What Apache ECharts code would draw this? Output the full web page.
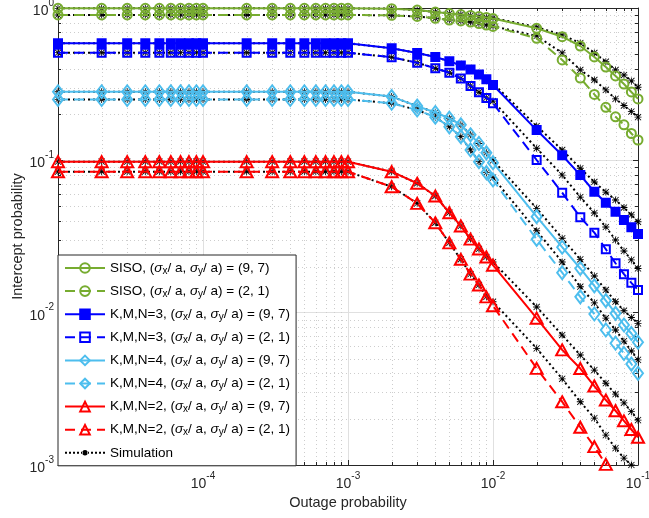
<!DOCTYPE html>
<html><head><meta charset="utf-8">
<script src="https://cdn.jsdelivr.net/npm/echarts@6/dist/echarts.min.js"></script>
<style>html,body{margin:0;padding:0;background:#fff}#c{width:649px;height:518px}</style>
</head><body><div id="c"></div><script>
// Outage probability (x) sample points
const X = [1e-5,2e-5,3e-5,4e-5,5e-5,6e-5,7e-5,8e-5,9e-5,
           1e-4,2e-4,3e-4,4e-4,5e-4,6e-4,7e-4,8e-4,9e-4,
           1e-3,2e-3,3e-3,4e-3,5e-3,6e-3,7e-3,8e-3,9e-3,
           1e-2,2e-2,3e-2,4e-2,5e-2,6e-2,7e-2,8e-2,9e-2,1e-1];

// Analytical curves (intercept probability)
const sisoA = [0.995,0.995,0.995,0.995,0.995,0.995,0.995,0.995,0.995,0.995,0.995,0.995,0.995,0.995,0.995,0.995,0.995,0.995,0.995,
  0.99,0.970,0.941,0.920,0.906,0.893,0.879,0.867,0.853,0.736,0.648,0.563,0.477,0.410,0.358,0.317,0.281,0.253];
const sisoB = [0.90,0.90,0.90,0.90,0.90,0.90,0.90,0.90,0.90,0.90,0.90,0.90,0.90,0.90,0.90,0.90,0.90,0.90,0.90,
  0.895,0.880,0.856,0.834,0.822,0.809,0.791,0.773,0.757,0.633,0.456,0.347,0.271,0.223,0.193,0.171,0.150,0.136];
const kmn3A = [0.586,0.586,0.586,0.586,0.586,0.586,0.586,0.586,0.586,0.586,0.586,0.586,0.586,0.586,0.586,0.586,0.586,0.586,0.586,
  0.544,0.507,0.477,0.447,0.420,0.394,0.366,0.340,0.312,0.158,0.108,0.080,0.0622,0.0527,0.0460,0.0406,0.0363,0.0328];
const kmn3B = [0.509,0.509,0.509,0.509,0.509,0.509,0.509,0.509,0.509,0.509,0.509,0.509,0.509,0.509,0.509,0.509,0.509,0.509,0.509,
  0.475,0.437,0.402,0.376,0.345,0.308,0.280,0.257,0.237,0.1005,0.0613,0.0423,0.0335,0.0261,0.0211,0.0179,0.0157,0.0141];
const kmn4A = [0.282,0.282,0.282,0.282,0.282,0.282,0.282,0.282,0.282,0.282,0.282,0.282,0.282,0.282,0.282,0.282,0.282,0.282,0.282,
  0.262,0.227,0.206,0.189,0.171,0.147,0.129,0.112,0.0965,0.0427,0.0269,0.0195,0.0150,0.0120,0.0099,0.0083,0.0073,0.0064];
const kmn4B = [0.251,0.251,0.251,0.251,0.251,0.251,0.251,0.251,0.251,0.251,0.251,0.251,0.251,0.251,0.251,0.251,0.251,0.251,0.251,
  0.237,0.214,0.192,0.166,0.143,0.117,0.098,0.083,0.0743,0.0303,0.0183,0.0127,0.0098,0.0077,0.0063,0.0054,0.0046,0.0040];
const kmn2A = [0.098,0.098,0.098,0.098,0.098,0.098,0.098,0.098,0.098,0.098,0.098,0.098,0.098,0.098,0.098,0.098,0.098,0.098,0.098,
  0.0842,0.0707,0.0583,0.0453,0.0371,0.0304,0.0262,0.0232,0.0205,0.0092,0.0057,0.0043,0.0033,0.00267,0.00227,0.00195,0.00171,0.00152];
const kmn2B = [0.0842,0.0842,0.0842,0.0842,0.0842,0.0842,0.0842,0.0842,0.0842,0.0842,0.0842,0.0842,0.0842,0.0842,0.0842,0.0842,0.0842,0.0842,0.0842,
  0.0671,0.0522,0.0389,0.0287,0.0224,0.0179,0.0152,0.0127,0.0111,0.00431,0.0026,0.00177,0.00132,0.00101,0.00081,0.00067,0.00057,0.00049];

// Simulation curves
const simSisoA = [0.995,0.995,0.995,0.995,0.995,0.995,0.995,0.995,0.995,0.995,0.995,0.995,0.995,0.995,0.995,0.995,0.995,0.995,0.995,
  0.99,0.970,0.941,0.920,0.906,0.893,0.879,0.867,0.860,0.750,0.665,0.589,0.507,0.444,0.392,0.363,0.332,0.302];
const simSisoB = [0.90,0.90,0.90,0.90,0.90,0.90,0.90,0.90,0.90,0.90,0.90,0.90,0.90,0.90,0.90,0.90,0.90,0.90,0.90,
  0.895,0.880,0.856,0.834,0.822,0.809,0.791,0.773,0.760,0.655,0.507,0.392,0.337,0.290,0.253,0.229,0.209,0.192];
const simKmn3A = [0.586,0.586,0.586,0.586,0.586,0.586,0.586,0.586,0.586,0.586,0.586,0.586,0.586,0.586,0.586,0.586,0.586,0.586,0.586,
  0.544,0.507,0.477,0.447,0.420,0.394,0.366,0.340,0.320,0.168,0.117,0.0887,0.0721,0.0619,0.0549,0.0490,0.0438,0.0395];
const simKmn3B = [0.509,0.509,0.509,0.509,0.509,0.509,0.509,0.509,0.509,0.509,0.509,0.509,0.509,0.509,0.509,0.509,0.509,0.509,0.509,
  0.475,0.437,0.402,0.376,0.345,0.308,0.280,0.257,0.245,0.120,0.080,0.0574,0.0451,0.0365,0.0300,0.0254,0.0222,0.0195];
const simKmn4A = [0.282,0.282,0.282,0.282,0.282,0.282,0.282,0.282,0.282,0.282,0.282,0.282,0.282,0.282,0.282,0.282,0.282,0.282,0.282,
  0.262,0.227,0.206,0.189,0.171,0.147,0.129,0.112,0.100,0.0484,0.0308,0.0224,0.0174,0.0141,0.0118,0.0103,0.0093,0.0085];
const simKmn4B = [0.251,0.251,0.251,0.251,0.251,0.251,0.251,0.251,0.251,0.251,0.251,0.251,0.251,0.251,0.251,0.251,0.251,0.251,0.251,
  0.237,0.214,0.192,0.166,0.143,0.117,0.098,0.083,0.077,0.0345,0.0215,0.0148,0.0116,0.0092,0.0077,0.0065,0.0056,0.0049];
const simKmn2A = [0.098,0.098,0.098,0.098,0.098,0.098,0.098,0.098,0.098,0.098,0.098,0.098,0.098,0.098,0.098,0.098,0.098,0.098,0.098,
  0.0842,0.0707,0.0583,0.0453,0.0371,0.0304,0.0262,0.0232,0.0215,0.0109,0.00713,0.00527,0.0042,0.00344,0.00292,0.00256,0.00224,0.00197];
const simKmn2B = [0.0842,0.0842,0.0842,0.0842,0.0842,0.0842,0.0842,0.0842,0.0842,0.0842,0.0842,0.0842,0.0842,0.0842,0.0842,0.0842,0.0842,0.0842,0.0842,
  0.0671,0.0522,0.0389,0.0287,0.0224,0.0179,0.0152,0.0127,0.0118,0.00583,0.00368,0.0026,0.00203,0.00157,0.00129,0.00111,0.00100,0.00089];

// Minor tick positions
const xMinor = [2e-5,3e-5,4e-5,5e-5,6e-5,7e-5,8e-5,9e-5,2e-4,3e-4,4e-4,5e-4,6e-4,7e-4,8e-4,9e-4,
                2e-3,3e-3,4e-3,5e-3,6e-3,7e-3,8e-3,9e-3,2e-2,3e-2,4e-2,5e-2,6e-2,7e-2,8e-2,9e-2];
const yMinor = [0.002,0.003,0.004,0.005,0.006,0.007,0.008,0.009,0.02,0.03,0.04,0.05,0.06,0.07,0.08,0.09,
                0.2,0.3,0.4,0.5,0.6,0.7,0.8,0.9];

const names = [
  'SISO, (σx/ a, σy/ a) = (9, 7)',
  'SISO, (σx/ a, σy/ a) = (2, 1)',
  'K,M,N=3, (σx/ a, σy/ a) = (9, 7)',
  'K,M,N=3, (σx/ a, σy/ a) = (2, 1)',
  'K,M,N=4, (σx/ a, σy/ a) = (9, 7)',
  'K,M,N=4, (σx/ a, σy/ a) = (2, 1)',
  'K,M,N=2, (σx/ a, σy/ a) = (9, 7)',
  'K,M,N=2, (σx/ a, σy/ a) = (2, 1)',
  'Simulation'
];

const XMIN = 1e-5, XMAX = 1e-1, YMIN = 1e-3, YMAX = 1;
const FONT = 'Liberation Sans';
const AX = '#262626';
const GREEN = '#77AC30', BLUE = '#0000FF', CYAN = '#4DBEEE', RED = '#FF0000';

const ASTER = 'path://M0,4.4L10,4.4L10,5.6L0,5.6Z M4.4,0L5.6,0L5.6,10L4.4,10Z M1,0.2L9.8,9L9,9.8L0.2,1Z M9,0.2L9.8,1L1,9.8L0.2,9Z';
const SIMICON = 'path://M0,5h2v2h-2z M4,5h2v2h-2z M8,5h2v2h-2z M12,5h2v2h-2z M30,5h2v2h-2z M34,5h2v2h-2z M38,5h2v2h-2z M26,5h2v2h-2z M20,3.3a2.7,2.7 0 1,0 0.01,0z M16,5h2v2h-2z M22,5h2v2h-2z';

function pts(vals) { return X.map((x, i) => [x, vals[i]]); }

function analytic(name, color, vals, dashed, symbol, size, filled) {
  return {
    type: 'line', name: name, data: pts(vals), z: 3,
    symbol: symbol, symbolSize: size, showSymbol: true,
    lineStyle: { color: color, width: 2, type: dashed ? [10, 6] : 'solid' },
    itemStyle: { color: filled ? color : 'rgba(255,255,255,0)', borderColor: color, borderWidth: 2 },
    emphasis: { disabled: true }, clip: true
  };
}
function sim(vals) {
  return {
    type: 'line', name: 'Simulation', data: pts(vals), z: 2,
    symbol: ASTER, symbolSize: 7,
    lineStyle: { color: '#000', width: 2, type: [2, 3] },
    itemStyle: { color: '#000' },
    emphasis: { disabled: true }, clip: true
  };
}

function supLabel(v) {
  const e = Math.round(Math.log10(v));
  return '{b|10}{p|' + e + '}';
}
const labelRich = {
  b: { fontSize: 14, fontFamily: FONT, color: AX, verticalAlign: 'bottom', lineHeight: 20 },
  p: { fontSize: 10, fontFamily: FONT, color: AX, verticalAlign: 'top', lineHeight: 10 }
};

function minorGrid(list, isX) {
  return {
    type: 'custom', z: 1, silent: true, clip: false,
    data: list.map(v => isX ? [v, 0.01] : [1e-3, v]),
    renderItem: function (params, api) {
      const v = api.value(isX ? 0 : 1);
      let a, b;
      if (isX) { a = api.coord([v, YMIN]); b = api.coord([v, YMAX]); }
      else { a = api.coord([XMIN, v]); b = api.coord([XMAX, v]); }
      const r = n => Math.round(n) + 0.5;
      const children = [];
      const gs = { stroke: '#cdcdcd', lineWidth: 1, lineDash: [1, 3] };
      if (isX) {
        const x = r(a[0]);
        children.push({ type: 'line', shape: { x1: x, y1: a[1], x2: x, y2: b[1] }, style: gs });
        children.push({ type: 'line', shape: { x1: x, y1: a[1], x2: x, y2: a[1] - 3 }, style: { stroke: AX, lineWidth: 1 } });
        children.push({ type: 'line', shape: { x1: x, y1: b[1], x2: x, y2: b[1] + 3 }, style: { stroke: AX, lineWidth: 1 } });
      } else {
        const y = r(a[1]);
        children.push({ type: 'line', shape: { x1: a[0], y1: y, x2: b[0], y2: y }, style: gs });
        children.push({ type: 'line', shape: { x1: a[0], y1: y, x2: a[0] + 3, y2: y }, style: { stroke: AX, lineWidth: 1 } });
        children.push({ type: 'line', shape: { x1: b[0], y1: y, x2: b[0] - 3, y2: y }, style: { stroke: AX, lineWidth: 1 } });
      }
      return { type: 'group', children: children };
    }
  };
}

const axCommon = {
  axisLine: { show: true, lineStyle: { color: AX, width: 1 } },
  axisTick: { show: true, inside: true, length: 5, lineStyle: { color: AX } }
};

const option = {
  animation: false,
  backgroundColor: '#fff',
  textStyle: { fontFamily: FONT },
  grid: { left: 58, top: 8, width: 580, height: 457, outerBoundsMode: 'none', containLabel: false },
  xAxis: [
    Object.assign({
      type: 'log', logBase: 10, min: XMIN, max: XMAX, position: 'bottom',
      axisLabel: { margin: 6, formatter: v => (Math.round(Math.log10(v)) === -5 ? '' : supLabel(v)), rich: labelRich },
      splitLine: { show: true, lineStyle: { color: '#e0e0e0', width: 1 } },
      name: 'Outage probability', nameLocation: 'middle', nameGap: 29,
      nameTextStyle: { fontSize: 14.5, fontFamily: FONT, color: AX }
    }, axCommon),
    Object.assign({
      type: 'log', logBase: 10, min: XMIN, max: XMAX, position: 'top',
      axisLabel: { show: false }, splitLine: { show: false }
    }, axCommon)
  ],
  yAxis: [
    Object.assign({
      type: 'log', logBase: 10, min: YMIN, max: YMAX, position: 'left',
      axisLabel: { margin: 4, formatter: v => supLabel(v), rich: labelRich },
      splitLine: { show: true, lineStyle: { color: '#e0e0e0', width: 1 } },
      name: 'Intercept probability', nameLocation: 'middle', nameGap: 33, nameMoveOverlap: false,
      nameTextStyle: { fontSize: 14.5, fontFamily: FONT, color: AX }
    }, axCommon),
    Object.assign({
      type: 'log', logBase: 10, min: YMIN, max: YMAX, position: 'right',
      axisLabel: { show: false }, splitLine: { show: false }
    }, axCommon)
  ],
  legend: {
    orient: 'vertical', left: 58, top: 255,
    padding: [5, 6, 5, 6], itemGap: 7.1, itemWidth: 40, itemHeight: 12,
    backgroundColor: '#fff', borderColor: AX, borderWidth: 1,
    selectedMode: false,
    data: names.slice(0, 8).map(n => ({ name: n })).concat([{ name: 'Simulation', icon: SIMICON }]),
    formatter: n => n.replace(/σ([xy])/g, '{i|σ}{s|$1}'),
    textStyle: {
      fontFamily: FONT, fontSize: 13.5, color: '#000', lineHeight: 16,
      rich: {
        i: { fontFamily: FONT, fontSize: 13.5, fontStyle: 'italic', color: '#000', lineHeight: 16 },
        s: { fontFamily: FONT, fontSize: 10, color: '#000', verticalAlign: 'bottom', lineHeight: 4 }
      }
    }
  },
  series: [
    minorGrid(xMinor, true),
    minorGrid(yMinor, false),
    sim(simSisoA), sim(simSisoB), sim(simKmn3A), sim(simKmn3B),
    sim(simKmn4A), sim(simKmn4B), sim(simKmn2A), sim(simKmn2B),
    analytic(names[0], GREEN, sisoA, false, 'circle', 9, false),
    analytic(names[1], GREEN, sisoB, true, 'circle', 9, false),
    analytic(names[2], BLUE, kmn3A, false, 'rect', 8, true),
    analytic(names[3], BLUE, kmn3B, true, 'rect', 8, false),
    analytic(names[4], CYAN, kmn4A, false, 'diamond', [10, 13], false),
    analytic(names[5], CYAN, kmn4B, true, 'diamond', [10, 13], false),
    analytic(names[6], RED, kmn2A, false, 'triangle', [12, 11], false),
    analytic(names[7], RED, kmn2B, true, 'triangle', [12, 11], false)
  ]
};

const chart = echarts.init(document.getElementById('c'), null, { renderer: 'canvas' });
chart.setOption(option);
</script></body></html>
